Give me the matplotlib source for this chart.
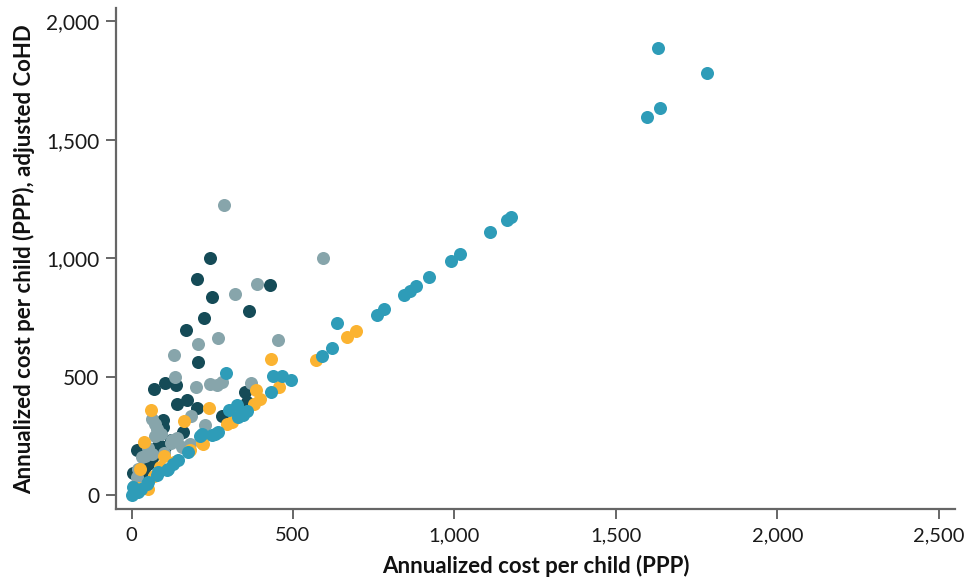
import matplotlib
matplotlib.use('Agg')
from matplotlib import pyplot as plt
from matplotlib.ticker import FuncFormatter

plt.rcParams['font.family'] = ['Lato', 'DejaVu Sans']

# data (cost per child vs adjusted CoHD)
dark_x = [242, 202, 428, 248, 365, 225, 169, 206, 103, 138, 71, 352, 358, 140, 173, 204, 281, 160, 98, 122, 78, 26, 104, 88, 98, 86, 16, 6, 50, 30, 60, 40, 70]
dark_y = [1001, 913, 887, 838, 778, 748, 697, 562, 473, 466, 447, 437, 395, 383, 404, 368, 334, 269, 290, 232, 203, 189, 205, 295, 316, 211, 189, 93, 130, 90, 150, 110, 170]

gray_x = [287, 593, 388, 320, 269, 454, 206, 131, 136, 201, 243, 266, 279, 370, 183, 228, 73, 78, 72, 122, 155, 181, 42, 16, 62, 32, 62, 124, 90, 50, 20, 100, 140, 8]
gray_y = [1226, 1001, 893, 850, 662, 653, 637, 591, 497, 456, 470, 467, 477, 473, 335, 295, 300, 281, 251, 220, 203, 218, 164, 77, 176, 161, 323, 232, 260, 200, 110, 180, 240, 40]

yellow_x = [694, 668, 571, 432, 384, 456, 398, 380, 240, 61, 295, 310, 163, 222, 40, 101, 26, 88, 52, 217, 130, 180, 20, 70]
yellow_y = [695, 669, 571, 573, 443, 456, 405, 386, 367, 359, 299, 309, 313, 218, 224, 166, 112, 119, 28, 220, 140, 190, 30, 80]

teal_x = [1631, 1782, 1636, 1596, 1175, 1163, 1111, 1016, 988, 922, 881, 862, 844, 783, 761, 636, 621, 589, 493, 439, 465, 433, 292, 302, 326, 341, 357, 346, 331, 212, 259, 269, 248, 219, 176, 145, 129, 109, 78, 47, 114, 83, 52, 6, 0, 20, 30]
teal_y = [1886, 1781, 1634, 1595, 1175, 1162, 1110, 1016, 988, 922, 881, 863, 843, 784, 762, 727, 623, 589, 485, 505, 504, 437, 517, 360, 379, 352, 355, 337, 330, 250, 257, 267, 255, 260, 182, 147, 133, 105, 84, 49, 112, 98, 56, 33, 0, 15, 25]

x_ticks = [0, 500, 1000, 1500, 2000, 2500]
y_ticks = [0, 500, 1000, 1500, 2000]

fig = plt.figure(figsize=(9.67, 5.84), dpi=100)
ax = fig.add_axes([0.12, 0.128, 0.8676, 0.858])

ms = 88
ax.scatter(dark_x, dark_y, s=ms, color='#154b57', linewidths=0, zorder=3)
ax.scatter(gray_x, gray_y, s=ms, color='#87a5ab', linewidths=0, zorder=3)
ax.scatter(yellow_x, yellow_y, s=ms, color='#fbb331', linewidths=0, zorder=3)
ax.scatter(teal_x, teal_y, s=ms, color='#2e9cb8', linewidths=0, zorder=3)

ax.set_xlim(-48, 2550)
ax.set_ylim(-59, 2055)
ax.set_xticks(x_ticks)
ax.set_yticks(y_ticks)
fmt = FuncFormatter(lambda v, p: '{:,.0f}'.format(v))
ax.xaxis.set_major_formatter(fmt)
ax.yaxis.set_major_formatter(fmt)

for s in ['top', 'right']:
	ax.spines[s].set_visible(False)
for s in ['left', 'bottom']:
	ax.spines[s].set_color('#666666')
	ax.spines[s].set_linewidth(1.6)

ax.tick_params(axis='both', length=7, width=1.4, color='#666666', labelcolor='#1a1a1a', pad=5)
ax.tick_params(axis='x', labelsize=14.5, pad=6)
ax.tick_params(axis='y', labelsize=15, pad=5)

ax.set_xlabel('Annualized cost per child (PPP)', fontsize=16, fontweight='bold', color='#111111', labelpad=8)
ax.set_ylabel('Annualized cost per child (PPP), adjusted CoHD', fontsize=16, fontweight='bold', color='#111111', labelpad=8)

plt.savefig('out.png', dpi=100)
